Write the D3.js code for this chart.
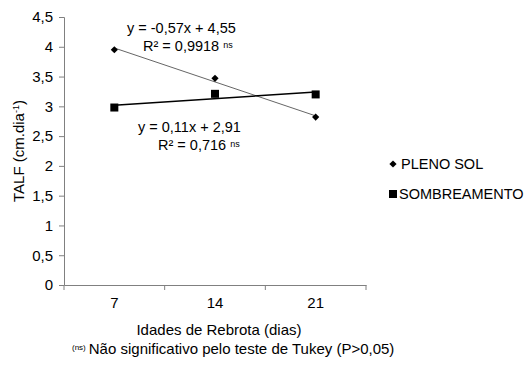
<!DOCTYPE html>
<html>
<head>
<meta charset="utf-8">
<script src="https://cdn.jsdelivr.net/npm/d3@7"></script>
<style>
  body { margin: 0; background: #fff; }
  text { font-family: "Liberation Sans", Arial, sans-serif; fill: #000; }
</style>
</head>
<body>
<script>
const ages = ["7", "14", "21"];
const plenoSol = [3.95, 3.47, 2.82];
const sombreamento = [2.98, 3.21, 3.2];
const yTicks = [0, 0.5, 1, 1.5, 2, 2.5, 3, 3.5, 4, 4.5];
// trend line coefficients (x = 1, 2, 3)
const plenoFit = { a: -0.57, b: 4.55 };
const sombraFit = { a: 0.11, b: 2.91 };

const width = 530, height = 365;
const margin = { top: 17, right: 164, bottom: 80, left: 64 };

const svg = d3.select("body").append("svg")
  .attr("width", width)
  .attr("height", height);

const x = d3.scaleBand()
  .domain(ages)
  .range([margin.left, width - margin.right]);

const y = d3.scaleLinear()
  .domain([0, 4.5])
  .range([height - margin.bottom, margin.top]);

const fmt = d => String(d).replace(".", ",");

// y axis
const yAxis = svg.append("g")
  .attr("transform", `translate(${margin.left},0)`)
  .call(d3.axisLeft(y).tickValues(yTicks).tickFormat(fmt).tickSize(5).tickPadding(6));
yAxis.selectAll("text").style("font-size", "15px");

// x axis, ticks on the band edges
const xAxis = svg.append("g")
  .attr("transform", `translate(0,${height - margin.bottom})`)
  .call(d3.axisBottom(x).tickSize(0).tickPadding(12));
xAxis.selectAll("text").style("font-size", "15px");
const edges = ages.map(d => x(d)).concat([x(ages[ages.length - 1]) + x.bandwidth()]);
xAxis.selectAll(".edge").data(edges).join("line")
  .attr("x1", d => d).attr("x2", d => d)
  .attr("y1", 0).attr("y2", 5)
  .attr("stroke", "#808080");

svg.selectAll(".domain, .tick line").attr("stroke", "#808080");

const cx = d => x(d) + x.bandwidth() / 2;

// trend lines
const fitLine = (fit, color, w) => {
  const first = ages[0], last = ages[ages.length - 1];
  svg.append("line")
    .attr("x1", cx(first)).attr("y1", y(fit.a * 1 + fit.b))
    .attr("x2", cx(last)).attr("y2", y(fit.a * ages.length + fit.b))
    .attr("stroke", color).attr("stroke-width", w);
};
fitLine(plenoFit, "#666", 1);
fitLine(sombraFit, "#000", 1.5);

// markers
const diamond = d3.symbol().type(d3.symbolSquare).size(26);
svg.selectAll(".pleno").data(plenoSol).join("path")
  .attr("d", diamond)
  .attr("transform", (d, i) => `translate(${cx(ages[i])},${y(d)}) rotate(45)`)
  .attr("fill", "#000");

svg.selectAll(".sombra").data(sombreamento).join("rect")
  .attr("x", (d, i) => cx(ages[i]) - 4)
  .attr("y", d => y(d) - 4)
  .attr("width", 8).attr("height", 8)
  .attr("fill", "#000");

// equations
const eq = (x1, x2, yPos, line1, line2) => {
  svg.append("text").attr("x", x1).attr("y", yPos)
    .style("font-size", "14.5px").text(line1);
  const t = svg.append("text").attr("x", x2).attr("y", yPos + 18)
    .style("font-size", "14.5px");
  t.append("tspan").text(line2);
  t.append("tspan").attr("dx", 4).attr("dy", -3).style("font-size", "9px").text("ns");
};
eq(127, 143, 33, "y = -0,57x + 4,55", "R² = 0,9918");
eq(138, 158, 132, "y = 0,11x + 2,91", "R² = 0,716");

// legend
const legend = svg.append("g").attr("transform", "translate(393,0)");
legend.append("path").attr("d", diamond)
  .attr("transform", "translate(0,164) rotate(45)").attr("fill", "#000");
legend.append("text").attr("x", 8).attr("y", 169)
  .style("font-size", "14.5px").text("PLENO SOL");
legend.append("rect").attr("x", -4).attr("y", 190)
  .attr("width", 8).attr("height", 8).attr("fill", "#000");
legend.append("text").attr("x", 6).attr("y", 199)
  .style("font-size", "14.5px").text("SOMBREAMENTO");

// axis titles
const yt = svg.append("text")
  .attr("transform", "translate(24,151) rotate(-90)")
  .attr("text-anchor", "middle").style("font-size", "15px");
yt.append("tspan").text("TALF  (cm.dia");
yt.append("tspan").attr("dy", -5).style("font-size", "9px").text("-1");
yt.append("tspan").attr("dy", 5).text(")");

svg.append("text")
  .attr("x", 219).attr("y", 335)
  .attr("text-anchor", "middle").style("font-size", "15px")
  .text("Idades de Rebrota (dias)");

const foot = svg.append("text").attr("x", 72).attr("y", 354).style("font-size", "15px");
foot.append("tspan").attr("dy", -4).style("font-size", "8px").text("(ns)");
foot.append("tspan").attr("dy", 4).attr("dx", 3).text("Não significativo pelo teste de Tukey (P>0,05)");
</script>
</body>
</html>
